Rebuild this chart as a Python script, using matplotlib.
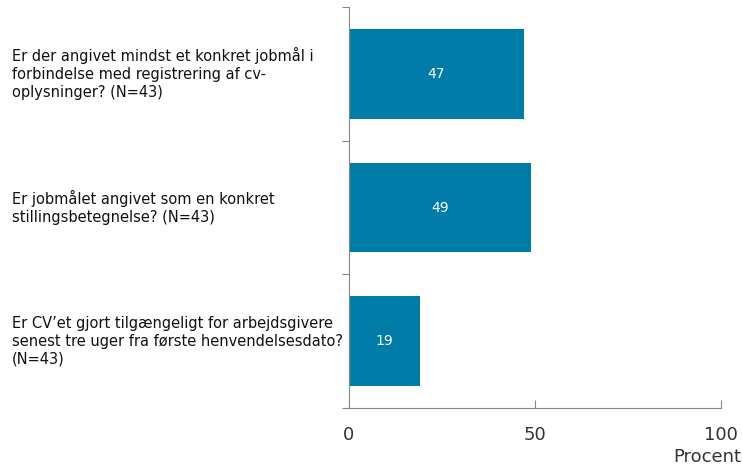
import numpy as np
import matplotlib.pyplot as plt

# data
questions = ['Er der angivet mindst et konkret jobmål i\nforbindelse med registrering af cv-\noplysninger? (N=43)',
             'Er jobmålet angivet som en konkret\nstillingsbetegnelse? (N=43)',
             'Er CV\u2019et gjort tilgængeligt for arbejdsgivere\nsenest tre uger fra første henvendelsesdato?\n(N=43)']
values = [47, 49, 19]
xticks = [0, 50, 100]

bar_color = '#007CA8'

fig = plt.figure(figsize=(7.42, 4.66), dpi=100)
ax = fig.add_axes([349/742, 1-408/466, 372/742, 401/466])

y = np.arange(len(values))
ax.barh(y, values, height=0.67, color=bar_color)
for yi, v in zip(y, values):
    ax.text(v/2, yi, str(v), color='white', ha='center', va='center', fontsize=10)

ax.set_xlim(0, 100)
ax.set_ylim(len(values)-0.5, -0.5)
ax.set_xticks(xticks)
ax.set_xticklabels([str(t) for t in xticks], fontsize=13, color='#333333')
ax.tick_params(axis='x', direction='in', length=6, color='#888888', pad=13)

ax.set_yticks(np.arange(len(values)+1) - 0.5)
ax.set_yticklabels([])
ax.tick_params(axis='y', direction='out', length=5, color='#888888')

for s in ['top', 'right']:
    ax.spines[s].set_visible(False)
for s in ['left', 'bottom']:
    ax.spines[s].set_color('#888888')

# category labels at the left edge of the figure
for yi, q in zip(y, questions):
    yd = ax.transData.transform((0, yi))[1]
    fig.text(12/742, yd/fig.bbox.height, q, ha='left', va='center',
             fontsize=10.5, linespacing=1.25, color='#111111')

fig.text(741/742, 1-457/466, 'Procent', ha='right', va='center', fontsize=13, color='#333333')

fig.savefig('out.png', dpi=100)
